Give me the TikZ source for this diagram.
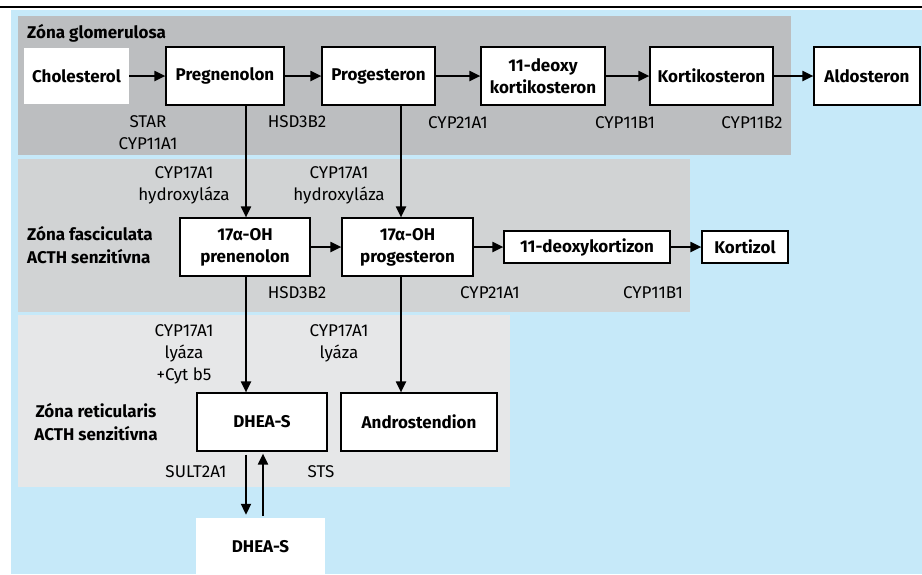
\documentclass[tikz,border=0pt]{standalone}
\usepackage{fontspec}
\setmainfont{Fira Sans}
\usetikzlibrary{arrows.meta}
\definecolor{zonebg}{HTML}{C6E9F9}
\definecolor{glomgray}{HTML}{BCBEC0}
\definecolor{fascgray}{HTML}{D1D3D4}
\definecolor{retigray}{HTML}{E6E7E8}
\begin{document}
\begin{tikzpicture}[x=1pt, y=-1pt,
    font=\fontsize{17}{22}\selectfont,
    sbox/.style={draw, line width=1.2pt, fill=white, font=\fontsize{17}{22}\selectfont\bfseries, align=center, inner sep=0pt, minimum height=58pt},
    pbox/.style={fill=white, font=\fontsize{17}{22}\selectfont\bfseries, inner sep=0pt, minimum height=56pt},
    enz/.style={align=center, inner sep=0pt},
    zone/.style={font=\fontsize{17}{23}\selectfont\bfseries, inner sep=0pt},
    arr/.style={line width=2pt, -{Triangle[length=11pt, width=10pt]}}]
    \useasboundingbox (0, 0) rectangle (922, 574);
    \fill[white] (0, 0) rectangle (922, 574);
    \fill[zonebg] (11, 9.5) rectangle (922, 574);
    \draw[line width=2pt] (0, 7) -- (922, 7);
    % zones
    \fill[glomgray] (18, 16) rectangle (791, 155);
    \fill[fascgray] (18, 159) rectangle (690, 312);
    \fill[retigray] (18, 315) rectangle (510, 487);
    \node[zone, anchor=west] (zglom) at (27, 33) {Zóna glomerulosa};
    \node[zone, anchor=west, align=left] (zfasc) at (27, 245) {Zóna fasciculata\\ACTH senzitívna};
    \node[zone, align=center] (zreti) at (96, 422.5) {Zóna reticularis\\ACTH senzitívna};
    % glomerulosa
    \node[pbox, minimum width=105pt] (chol) at (76.5, 76) {Cholesterol};
    \node[sbox, minimum width=118pt] (preg) at (225, 76) {Pregnenolon};
    \node[sbox, minimum width=113pt] (prog) at (378.5, 76) {Progesteron};
    \node[sbox, minimum width=124pt] (doc) at (543, 76) {11-deoxy\\kortikosteron};
    \node[sbox, minimum width=123pt] (kort) at (711.5, 76) {Kortikosteron};
    \node[sbox, minimum width=106pt] (aldo) at (867, 76) {Aldosteron};
    \draw[arr] (chol) -- (preg);
    \draw[arr] (preg) -- (prog);
    \draw[arr] (prog) -- (doc);
    \draw[arr] (doc) -- (kort);
    \draw[arr] (kort) -- (aldo);
    \node[enz] (e1) at (148, 132.5) {STAR\\CYP11A1};
    \node[enz] (e2) at (297, 122) {HSD3B2};
    \node[enz] (e3) at (458, 123) {CYP21A1};
    \node[enz] (e4) at (625, 123) {CYP11B1};
    \node[enz] (e5) at (752, 123) {CYP11B2};
    % fasciculata
    \node[sbox, minimum width=130pt] (ohpreg) at (245, 247) {17α-OH\\prenenolon};
    \node[sbox, minimum width=131pt] (ohprog) at (407.5, 247) {17α-OH\\progesteron};
    \node[sbox, minimum width=166pt, minimum height=32pt] (dcort) at (587, 247) {11-deoxykortizon};
    \node[sbox, minimum width=86pt, minimum height=32pt] (kortz) at (745, 247) {Kortizol};
    \draw[arr] (preg.south -| 246, 0) -- (ohpreg.north -| 246, 0);
    \draw[arr] (prog.south -| 401, 0) -- (ohprog.north -| 401, 0);
    \draw[arr] (ohpreg) -- (ohprog);
    \draw[arr] (ohprog) -- (dcort);
    \draw[arr] (dcort) -- (kortz);
    \node[enz] (e6) at (184, 185) {CYP17A1\\hydroxyláza};
    \node[enz] (e7) at (339, 185) {CYP17A1\\hydroxyláza};
    \node[enz] (e8) at (297, 293) {HSD3B2};
    \node[enz] (e9) at (490, 293) {CYP21A1};
    \node[enz] (e10) at (653, 293) {CYP11B1};
    % reticularis
    \node[sbox, minimum width=130pt] (dhea) at (262, 422) {DHEA-S};
    \node[sbox, minimum width=156pt] (andro) at (419, 422) {Androstendion};
    \node[pbox, minimum width=129pt, minimum height=58pt] (dheas) at (260.5, 547) {DHEA-S};
    \draw[arr] (ohpreg.south -| 246, 0) -- (dhea.north -| 246, 0);
    \draw[arr] (ohprog.south -| 401, 0) -- (andro.north -| 401, 0);
    \draw[arr, shorten <=3pt, shorten >=3pt] (dhea.south -| 246, 0) -- (dheas.north -| 246, 0);
    \draw[arr, shorten <=2pt, shorten >=2pt] (dheas.north -| 263, 0) -- (dhea.south -| 263, 0);
    \node[enz] (e11) at (184, 354.5) {CYP17A1\\lyáza\\+Cyt b5};
    \node[enz] (e12) at (339, 343) {CYP17A1\\lyáza};
    \node[enz] (e13) at (196, 472) {SULT2A1};
    \node[enz] (e14) at (321, 472) {STS};
\end{tikzpicture}
\end{document}
